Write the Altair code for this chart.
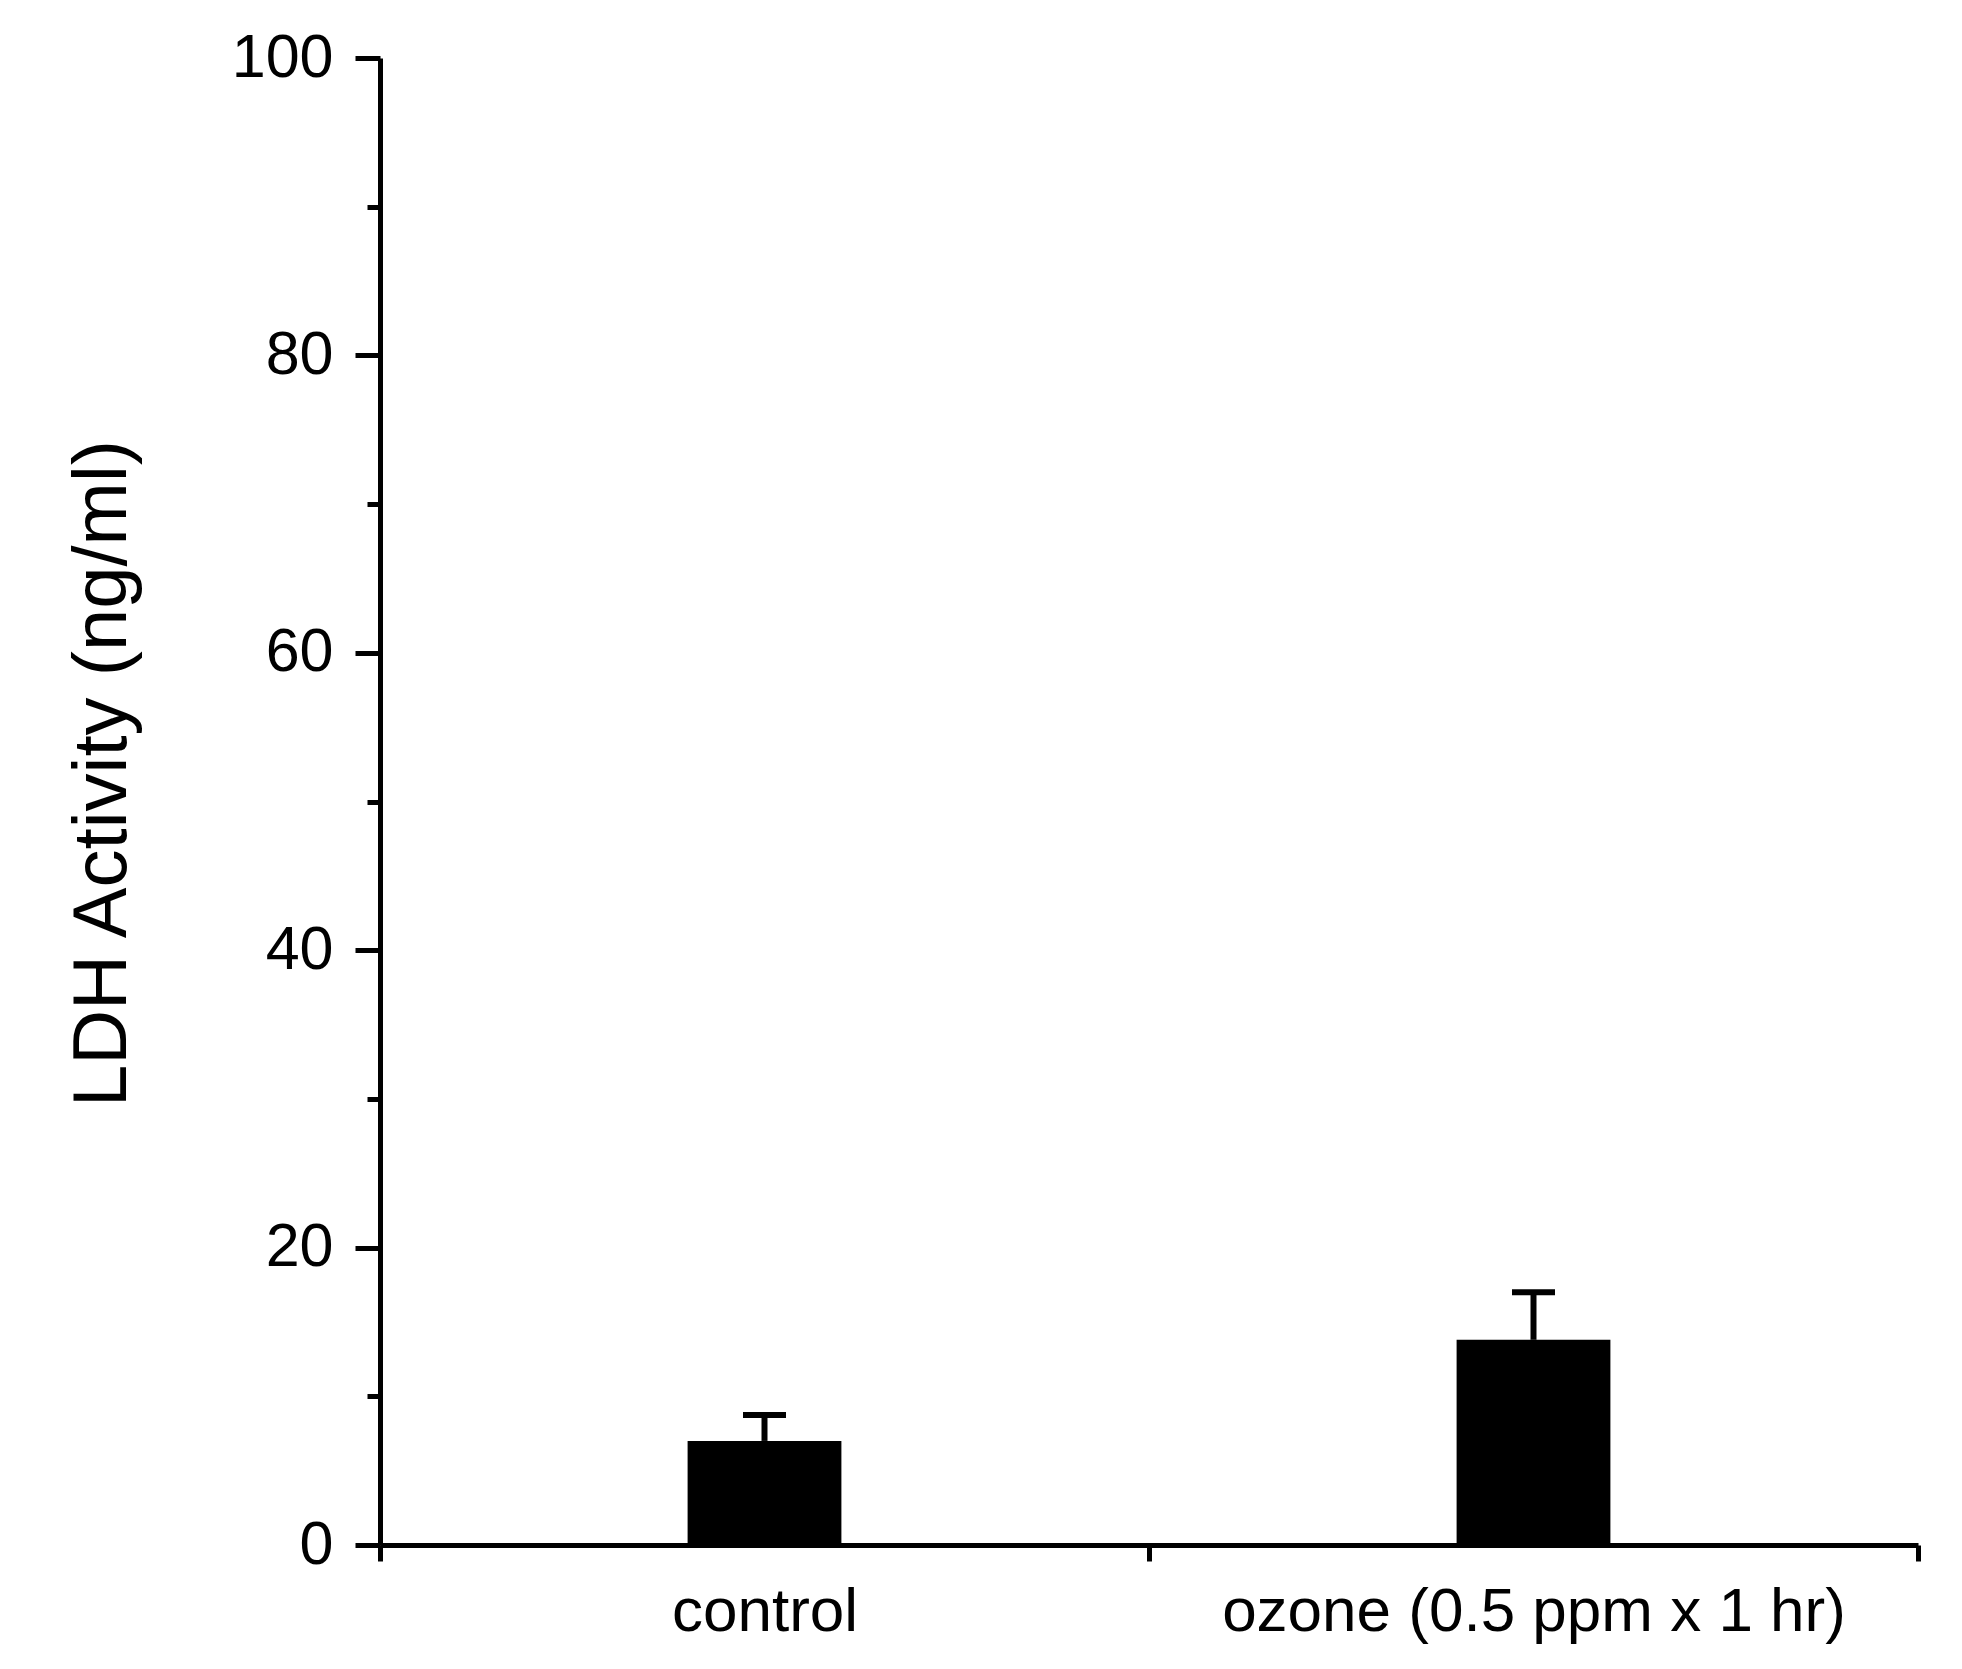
import altair as alt
import pandas as pd

# Data
groups = ["control", "ozone (0.5 ppm x 1 hr)"]
means = [7.0, 13.8]
errors = [1.75, 3.2]

major_ticks = [0, 20, 40, 60, 80, 100]
minor_ticks = [10, 30, 50, 70, 90]

df = pd.DataFrame({"group": groups, "mean": means, "err": errors})
df["upper"] = df["mean"] + df["err"]

FONT = "Liberation Sans"

x_enc = alt.X(
    "group:N",
    sort=groups,
    scale=alt.Scale(paddingInner=0, paddingOuter=0),
    axis=alt.Axis(
        title=None,
        labelAngle=0,
        labelFontSize=62,
        labelFont=FONT,
        labelColor="black",
        labelPadding=20,
        tickBand="extent",
        tickSize=16,
        tickWidth=5,
        tickColor="black",
        domainColor="black",
        domainWidth=5,
        labelLimit=1000,
        grid=False,
    ),
)

y_scale = alt.Scale(domain=[0, 100], nice=False)

bars = alt.Chart(df).mark_bar(color="black", width={"band": 0.2}).encode(
    x=x_enc,
    y=alt.Y(
        "mean:Q",
        scale=y_scale,
        axis=alt.Axis(
            orient="left",
            values=major_ticks,
            title="LDH Activity (ng/ml)",
            titleFont=FONT,
            titleFontSize=76,
            titleFontWeight="normal",
            titleColor="black",
            titleBaseline="alphabetic",
            titleX=-255,
            titleY=715,
            titleAngle=270,
            titleAlign="center",
            labelFont=FONT,
            labelFontSize=61,
            labelColor="black",
            labelPadding=22,
            tickSize=25,
            tickWidth=5,
            tickColor="black",
            domainColor="black",
            domainWidth=5,
            grid=False,
        ),
    ),
)

stems = alt.Chart(df).mark_rule(color="black", strokeWidth=6).encode(
    x=alt.X("group:N", sort=groups),
    y=alt.Y(
        "mean:Q",
        scale=y_scale,
        axis=alt.Axis(
            orient="left",
            values=minor_ticks,
            labels=False,
            title=None,
            tickSize=13,
            tickWidth=5,
            tickColor="black",
            domain=False,
            grid=False,
        ),
    ),
    y2="upper:Q",
)

caps = alt.Chart(df).mark_tick(
    color="black", orient="horizontal", size=43, thickness=6, opacity=1
).encode(
    x=alt.X("group:N", sort=groups),
    y=alt.Y("upper:Q", scale=y_scale, axis=None),
)

chart = (
    alt.layer(bars, stems, caps)
    .resolve_axis(y="independent")
    .properties(
        width=1538,
        height=1487,
        autosize=alt.AutoSizeParams(type="none"),
        padding={"left": 372, "top": 50, "right": 30, "bottom": 110},
        view=alt.ViewBackground(stroke="white", strokeWidth=0, strokeOpacity=0),
    )
    .configure_view(strokeWidth=0, stroke="white", strokeOpacity=0)
    .configure_axis(grid=False)
    .configure(background="white")
)

chart.save("out.html", embed_options={"renderer": "svg", "actions": False})
